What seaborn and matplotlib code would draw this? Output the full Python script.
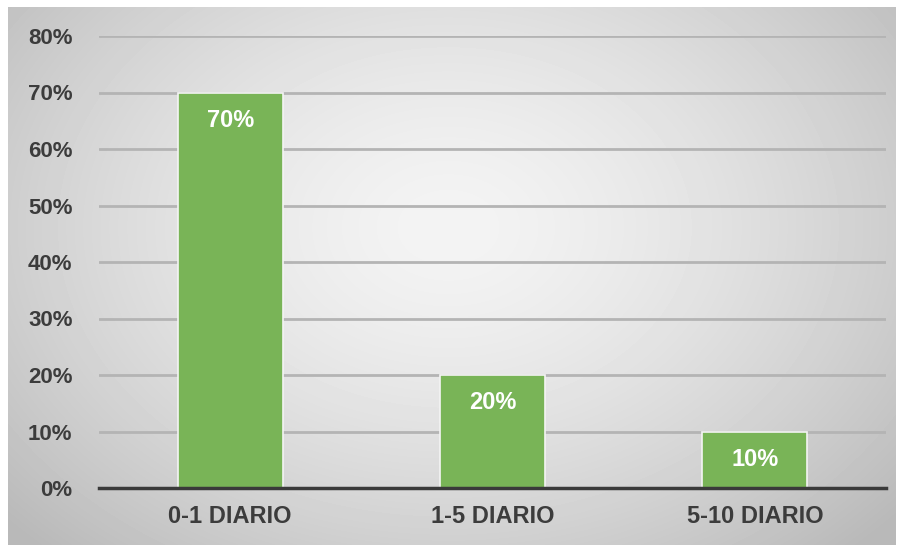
import numpy as np
import pandas as pd
import matplotlib
matplotlib.use("Agg")
import matplotlib.pyplot as plt
import seaborn as sns

categories = ["0-1 DIARIO", "1-5 DIARIO", "5-10 DIARIO"]
values = [0.70, 0.20, 0.10]
y_ticks = [0.0, 0.1, 0.2, 0.3, 0.4, 0.5, 0.6, 0.7, 0.8]

df = pd.DataFrame({"categoria": categories, "valor": values})

sns.set_theme(style="white")
plt.rcParams["font.family"] = ["Liberation Sans", "DejaVu Sans"]

W, H = 900, 545
fig = plt.figure(figsize=(W / 100, H / 100), dpi=100)
fig.patch.set_facecolor("white")

# radial grey gradient panel behind the chart
bg = fig.add_axes([8 / W, 0, (896 - 8) / W, 1 - 7 / H])
yy, xx = np.mgrid[0:538, 0:888]
cx, cy = 440, 220
r = np.sqrt(((xx - cx) / 540) ** 2 + ((yy - cy) / 400) ** 2)
r = np.clip(r, 0, 1.1)
shade = 0.955 - 0.2 * r ** 1.5
bg.imshow(shade, cmap="gray", vmin=0, vmax=1, aspect="auto",
          interpolation="bilinear")
bg.set_axis_off()

ax = fig.add_axes([99 / W, 1 - 488 / H, (886 - 99) / W, (488 - 36) / H])
ax.patch.set_alpha(0)

sns.barplot(data=df, x="categoria", y="valor", color="#79B457",
            width=0.4, saturation=1, edgecolor="#f4f4f4", linewidth=1.2,
            ax=ax, zorder=3)

ax.set_ylim(0, 0.8)
ax.set_xlim(-0.5, 2.5)
ax.set_yticks(y_ticks)
ax.set_yticklabels([f"{t:.0%}" for t in y_ticks])
ax.yaxis.grid(True, color="#b4b4b4", linewidth=2, zorder=0)
ax.set_axisbelow(True)
for s in ["top", "right", "left"]:
    ax.spines[s].set_visible(False)
ax.spines["bottom"].set_color("#3a3a3a")
ax.spines["bottom"].set_linewidth(2.5)
ax.spines["bottom"].set_zorder(5)
ax.set_xlabel("")
ax.set_ylabel("")
ax.tick_params(axis="y", length=0, pad=19, labelsize=16, labelcolor="#3c3c3c")
ax.tick_params(axis="x", length=0, pad=12, labelsize=17, labelcolor="#3c3c3c")
for lbl in ax.get_xticklabels() + ax.get_yticklabels():
    lbl.set_fontweight("bold")

for i, v in enumerate(values):
    ax.annotate(f"{v:.0%}", (i, v), xytext=(0, -20), textcoords="offset points",
                ha="center", va="center", color="white", fontsize=17,
                fontweight="bold", zorder=6)

fig.savefig("out.png", dpi=100)
